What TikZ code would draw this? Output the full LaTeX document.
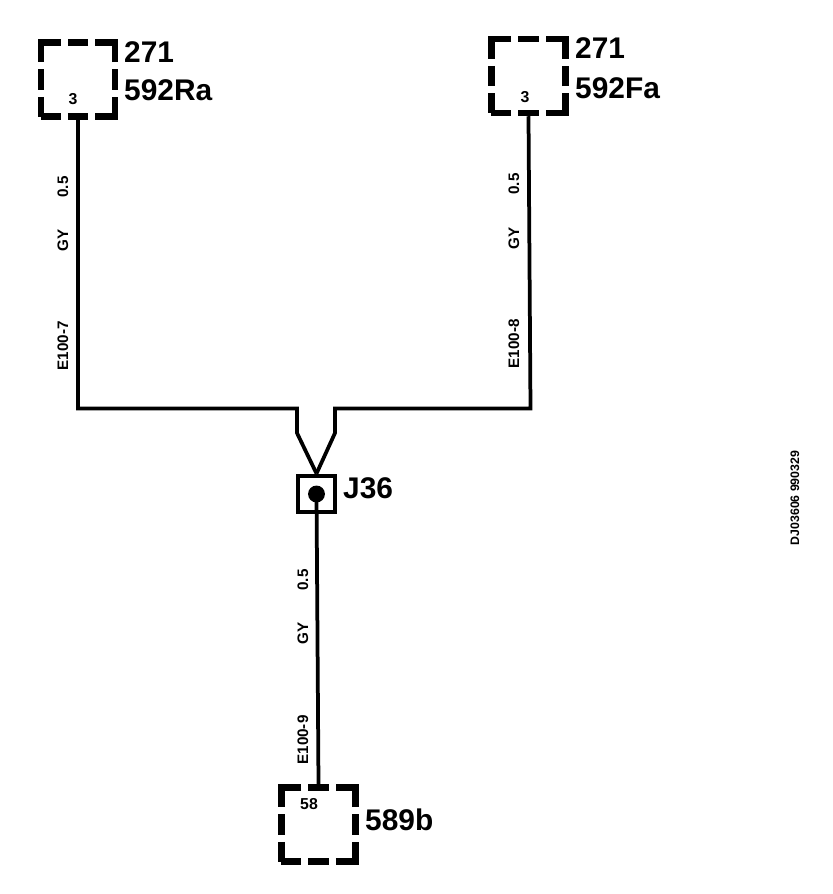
\documentclass[tikz,border=0pt]{standalone}
\usepackage{fontspec}
\setmainfont{Liberation Sans}
\usetikzlibrary{calc}
\tikzset{
  connbox/.style={draw, line width=5.5pt, minimum size=63.2pt, inner sep=0pt,
    dash pattern=on 33.6pt off 6.2pt on 17.2pt off 6.2pt, dash phase=16.8pt},
  wire/.style={line width=3.2pt, line join=miter},
  bigtext/.style={anchor=base west, inner sep=0pt, font=\bfseries\fontsize{25.5}{25.5}\selectfont},
  pintext/.style={inner sep=0pt, font=\bfseries\fontsize{13.5}{13.5}\selectfont},
  wiretext/.style={rotate=90, inner sep=0pt, font=\bfseries\fontsize{13}{13}\selectfont}
}
\begin{document}
\begin{tikzpicture}[x=0.03cm, y=-0.03cm]
  \useasboundingbox (0,0) rectangle (832,894);
  % boxes
  \node[connbox] (boxR) at (78,79.5) {};
  \node[connbox] (boxF) at (528.5,76) {};
  \node[connbox] (boxB) at (318.5,824.5) {};
  \node[draw, line width=3.4pt, minimum size=31.5pt, inner sep=0pt] (j36) at (316.5,494) {};
  \fill[black] (j36.center) circle (7.2pt);
  % wires
  \coordinate (topL) at (297,408.5);
  \coordinate (kneeL) at (297,433);
  \coordinate (topF) at (335,408.5);
  \coordinate (kneeF) at (335,433);
  \coordinate (endF) at (530.5,408.5);
  \draw[wire] (boxR.south) |- (topL) -- (kneeL) -- (j36.north);
  \draw[wire] (boxF.south) -- (endF) -- (topF) -- (kneeF) -- (j36.north);
  \draw[wire] (j36.center) -- (boxB.north);
  % texts
  \node[bigtext] (a1) at (124,62) {271};
  \node[bigtext] (a2) at (124,100) {592Ra};
  \node[bigtext] (b1) at (575,58) {271};
  \node[bigtext] (b2) at (575,98) {592Fa};
  \node[bigtext] (j) at (343,498) {J36};
  \node[bigtext] (c) at (365,830) {589b};
  \node[pintext] (p1) at (73,99.5) {3};
  \node[pintext] (p2) at (525,97) {3};
  \node[pintext] (p3) at (309,804) {58};
  \node[wiretext] (r1) at (63,187) {0.5};
  \node[wiretext] (r2) at (63,240) {GY};
  \node[wiretext] (r3) at (63,346) {E100-7};
  \node[wiretext] (f1) at (514,184) {0.5};
  \node[wiretext] (f2) at (514,238) {GY};
  \node[wiretext] (f3) at (514,344) {E100-8};
  \node[wiretext] (m1) at (303,580) {0.5};
  \node[wiretext] (m2) at (303,633) {GY};
  \node[wiretext] (m3) at (303,740) {E100-9};
  \node[wiretext, font=\bfseries\fontsize{10.5}{10.5}\selectfont] (id) at (795,498) {DJ03606 990329};
\end{tikzpicture}
\end{document}
